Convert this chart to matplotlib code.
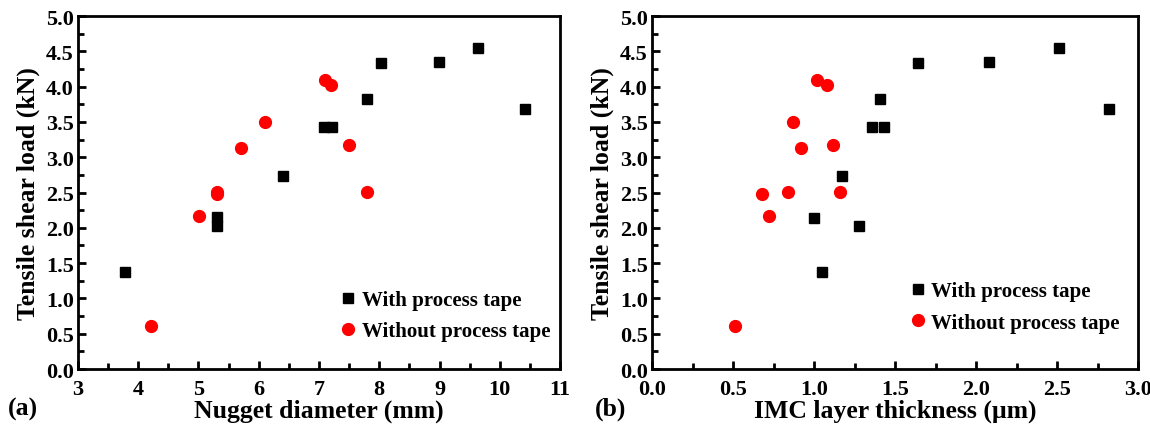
import matplotlib
matplotlib.use("Agg")
import matplotlib.pyplot as plt
from matplotlib.ticker import MultipleLocator, FormatStrFormatter

plt.rcParams['font.family'] = ['Liberation Serif', 'DejaVu Serif']
plt.rcParams['font.weight'] = 'bold'

# Panel (a): nugget diameter (mm) vs tensile shear load (kN)
a_with_x = [3.78, 5.30, 5.30, 6.40, 7.08, 7.21, 7.80, 8.03, 8.99, 9.64, 10.42]
a_with_y = [1.37, 2.15, 2.03, 2.73, 3.43, 3.43, 3.83, 4.33, 4.35, 4.55, 3.68]
a_wo_x = [4.21, 5.01, 5.30, 5.30, 5.71, 6.10, 7.10, 7.20, 7.49, 7.80]
a_wo_y = [0.61, 2.17, 2.48, 2.51, 3.13, 3.50, 4.10, 4.02, 3.18, 2.51]

# Panel (b): IMC layer thickness (um) vs tensile shear load (kN)
b_with_x = [1.00, 1.05, 1.17, 1.28, 1.36, 1.43, 1.41, 1.64, 2.08, 2.51, 2.82]
b_with_y = [2.14, 1.37, 2.73, 2.03, 3.43, 3.43, 3.83, 4.33, 4.35, 4.55, 3.68]
b_wo_x = [0.51, 0.68, 0.72, 0.84, 0.87, 0.92, 1.02, 1.08, 1.12, 1.16]
b_wo_y = [0.61, 2.48, 2.17, 2.51, 3.50, 3.13, 4.10, 4.02, 3.18, 2.51]

fig = plt.figure(figsize=(11.5, 4.31), dpi=100)
ax1 = fig.add_axes([0.0678, 0.1415, 0.4192, 0.819])
ax2 = fig.add_axes([0.5670, 0.1415, 0.4226, 0.819])

def style(ax, xlim, xmaj, xmin, xlabel):
    ax.set_xlim(*xlim)
    ax.set_ylim(0, 5.0)
    ax.xaxis.set_major_locator(MultipleLocator(xmaj))
    ax.xaxis.set_minor_locator(MultipleLocator(xmin))
    ax.yaxis.set_major_locator(MultipleLocator(0.5))
    ax.yaxis.set_minor_locator(MultipleLocator(0.25))
    ax.tick_params(which='both', direction='in', top=False, right=False,
                   width=2, labelsize=16)
    ax.tick_params(axis='y', pad=3)
    ax.tick_params(axis='x', pad=7)
    ax.tick_params(which='major', length=6)
    ax.tick_params(which='minor', length=4)
    for s in ax.spines.values():
        s.set_linewidth(2)
    ax.set_xlabel(xlabel, fontsize=18.5, fontweight='bold', labelpad=0)
    ax.set_ylabel('Tensile shear load (kN)', fontsize=18.5, fontweight='bold', labelpad=4)
    ax.yaxis.set_major_formatter(FormatStrFormatter('%.1f'))

ax1.plot(a_with_x, a_with_y, 's', color='black', ms=7.5, label='With process tape')
ax1.plot(a_wo_x, a_wo_y, 'o', color='red', ms=8.5, label='Without process tape')
style(ax1, (3, 11), 1, 0.5, 'Nugget diameter (mm)')
ax1.xaxis.set_major_formatter(FormatStrFormatter('%d'))

ax2.plot(b_with_x, b_with_y, 's', color='black', ms=7.5, label='With process tape')
ax2.plot(b_wo_x, b_wo_y, 'o', color='red', ms=8.5, label='Without process tape')
style(ax2, (0, 3.0), 0.5, 0.25, 'IMC layer thickness (μm)')
ax2.xaxis.set_major_formatter(FormatStrFormatter('%.1f'))

ax1.legend(loc='lower right', bbox_to_anchor=(1.02, 0.025), frameon=False,
           prop={'weight': 'bold', 'size': 15}, handletextpad=0.2,
           handlelength=1.0, labelspacing=0.55)
ax2.legend(loc='lower right', bbox_to_anchor=(1.0, 0.05), frameon=False,
           prop={'weight': 'bold', 'size': 15}, handletextpad=0.1,
           handlelength=1.0, labelspacing=0.55)

fig.text(0.007, 0.035, '(a)', fontsize=18.5, fontweight='bold')
fig.text(0.517, 0.035, '(b)', fontsize=18.5, fontweight='bold')

fig.savefig('out.png', dpi=100)
